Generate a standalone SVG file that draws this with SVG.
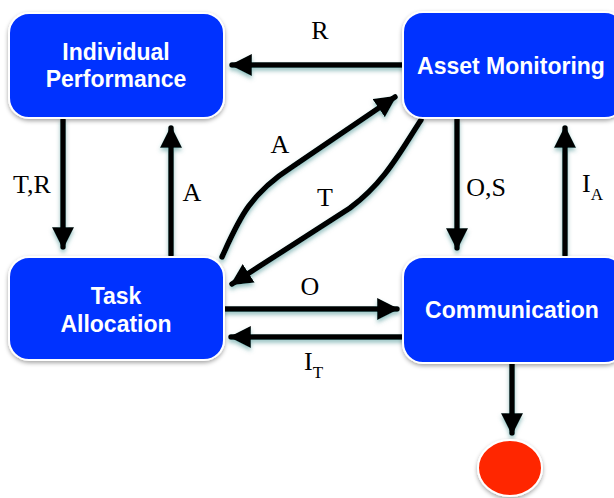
<svg xmlns="http://www.w3.org/2000/svg" width="614" height="498" viewBox="0 0 614 498">
<defs>
<filter id="bsh" x="-20%" y="-20%" width="140%" height="140%">
<feDropShadow dx="0" dy="2" stdDeviation="2" flood-color="#000" flood-opacity="0.35"/>
</filter>
<filter id="lsh" x="-20%" y="-20%" width="140%" height="140%">
<feDropShadow dx="0" dy="3" stdDeviation="2" flood-color="#3f8f8f" flood-opacity="0.55"/>
</filter>
<marker id="ah" markerWidth="4" markerHeight="4" refX="3.6" refY="2" orient="auto" markerUnits="strokeWidth">
<path d="M0,0 L4,2 L0,4 Z" fill="#000"/>
</marker>
<style>
.box{fill:#0433ff;stroke:#fff;stroke-width:2;filter:url(#bsh)}
.bt{font-family:"Liberation Sans",Arial,sans-serif;font-weight:bold;font-size:23px;fill:#fff;text-anchor:middle}
.ln{fill:none;stroke:#000;stroke-width:5.5;stroke-linecap:round;marker-end:url(#ah)}
.lb{font-family:"Liberation Serif","Times New Roman",serif;font-size:26px;fill:#000}
.sb{font-size:17px}
</style>
</defs>
<g id="connectors" filter="url(#lsh)">
<path class="ln" d="M405,65 L232,65"/>
<path class="ln" d="M63,120 L63,247"/>
<path class="ln" d="M171,255 L171,128"/>
<path class="ln" d="M457,120 L457,248"/>
<path class="ln" d="M565,255 L565,128"/>
<path class="ln" d="M224,309 L397,309"/>
<path class="ln" d="M403,337 L231,337"/>
<path class="ln" d="M222,257 C238,222 248,195 292,167 L395,97"/>
<path class="ln" d="M421,120 C400,152 385,182 350,208 L232,284"/>
<path class="ln" d="M512,364 L512,433"/>
</g>
<g id="labels">
<text class="lb" x="320" y="39" text-anchor="middle">R</text>
<text class="lb" x="32" y="193" text-anchor="middle">T,R</text>
<text class="lb" x="192" y="201" text-anchor="middle">A</text>
<text class="lb" x="280" y="153" text-anchor="middle">A</text>
<text class="lb" x="325" y="206" text-anchor="middle">T</text>
<text class="lb" x="486" y="196" text-anchor="middle">O,S</text>
<text class="lb" x="582" y="192">I<tspan class="sb" dy="8">A</tspan></text>
<text class="lb" x="310" y="295" text-anchor="middle">O</text>
<text class="lb" x="304" y="370">I<tspan class="sb" dy="8">T</tspan></text>
</g>
<g id="individual-performance">
<rect class="box" x="9" y="13" width="215" height="105" rx="20"/>
<text class="bt" x="116" y="60">Individual</text>
<text class="bt" x="116" y="87">Performance</text>
</g>
<g id="asset-monitoring">
<rect class="box" x="403" y="12" width="222" height="106" rx="20"/>
<text class="bt" x="511" y="74">Asset Monitoring</text>
</g>
<g id="task-allocation">
<rect class="box" x="9" y="257" width="215" height="103" rx="20"/>
<text class="bt" x="116" y="304">Task</text>
<text class="bt" x="116" y="332">Allocation</text>
</g>
<g id="communication">
<rect class="box" x="403" y="257" width="222" height="106" rx="20"/>
<text class="bt" x="512" y="318">Communication</text>
</g>
<g id="end">
<ellipse cx="510" cy="468" rx="32" ry="28" fill="#ff2600" stroke="#fff" stroke-width="2" filter="url(#bsh)"/>
</g>
</svg>
